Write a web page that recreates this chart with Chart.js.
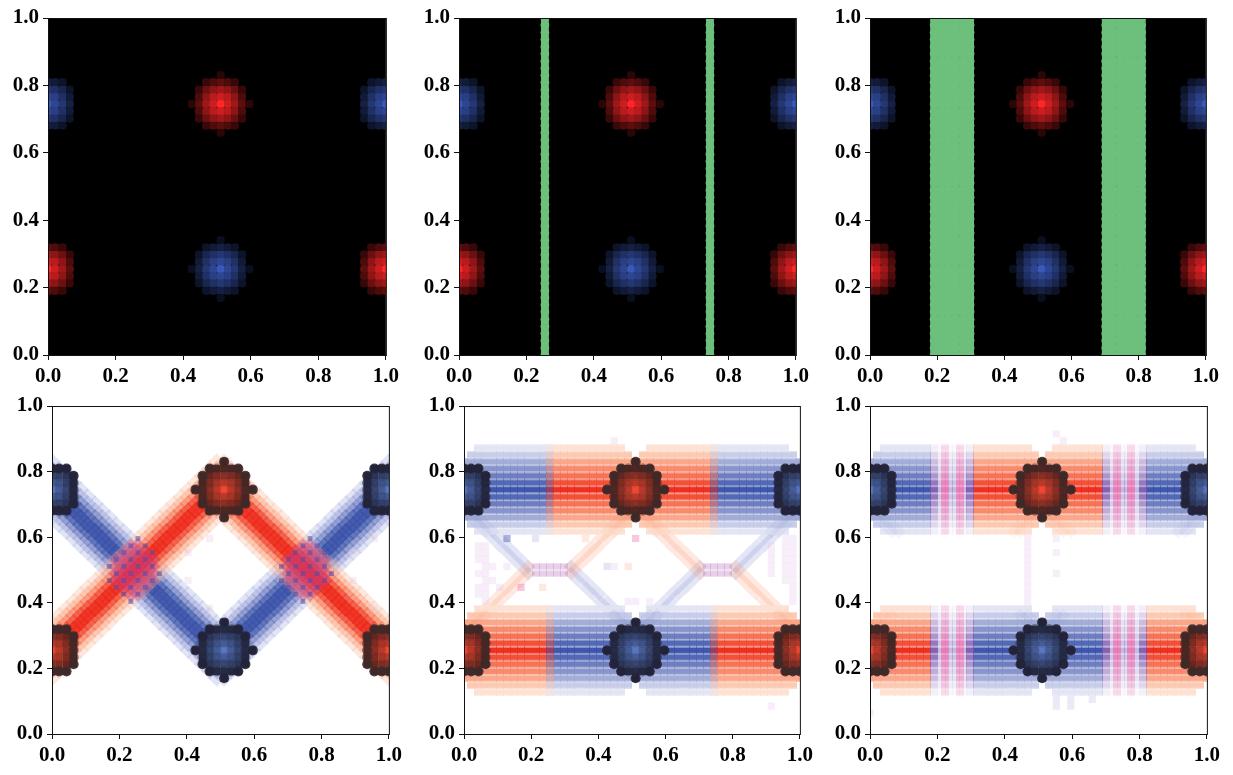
<!DOCTYPE html>
<html>
<head>
<meta charset="utf-8">
<title>Six panel lattice</title>
<script src="https://cdn.jsdelivr.net/npm/chart.js@4"></script>
<style>
body { margin: 0; background: #fff; }
canvas { position: absolute; }
</style>
</head>
<body>
<script>
// lattice positions (48 sites per axis)
const gridPos = [0, .021, .043, .064, .085, .106, .128, .149, .170, .191, .213, .234, .255, .277, .298, .319,
    .340, .362, .383, .404, .426, .447, .468, .489, .511, .532, .553, .574, .596, .617, .638, .660,
    .681, .702, .723, .745, .766, .787, .809, .830, .851, .872, .894, .915, .936, .957, .979, 1];
const tickValues = [0, .2, .4, .6, .8, 1];
const tickLabels = ['0.0', '0.2', '0.4', '0.6', '0.8', '1.0'];

// blob centres as [column, row]
const redCentres = [[24, 35], [0, 12], [47, 12]];
const blueCentres = [[24, 12], [0, 35], [47, 35]];

// blob brightness, 9x9 around the centre
const blobRows = [
    [0, 0, 0, 0, .17, 0, 0, 0, 0],
    [0, 0, .22, .3, .36, .3, .22, 0, 0],
    [0, .22, .42, .55, .62, .55, .42, .22, 0],
    [0, .3, .55, .72, .8, .72, .55, .3, 0],
    [.17, .36, .62, .8, 1, .8, .62, .36, .17],
    [0, .3, .55, .72, .8, .72, .55, .3, 0],
    [0, .22, .42, .55, .62, .55, .42, .22, 0],
    [0, 0, .22, .3, .36, .3, .22, 0, 0],
    [0, 0, 0, 0, .17, 0, 0, 0, 0]
];
const edgeBlobRows = [
    [0, 0, 0, 0, 0, 0, 0, 0, 0],
    [0, 0, .22, .3, .36, .3, .22, 0, 0],
    [0, .22, .42, .55, .62, .55, .42, .22, 0],
    [0, .3, .55, .72, .8, .72, .55, .3, 0],
    [0, .36, .62, .8, 1, .8, .62, .36, 0],
    [0, .3, .55, .72, .8, .72, .55, .3, 0],
    [0, .22, .42, .55, .62, .55, .42, .22, 0],
    [0, 0, .22, .3, .36, .3, .22, 0, 0],
    [0, 0, 0, 0, 0, 0, 0, 0, 0]
];
// dark dots over the blobs in the lower row
const blobShade = [
    [0, 0, 0, 0, .9, 0, 0, 0, 0],
    [0, 0, .9, .55, .55, .55, .9, 0, 0],
    [0, .9, .22, .22, .22, .22, .22, .9, 0],
    [0, .55, .22, .14, .1, .14, .22, .55, 0],
    [.9, .55, .22, .1, 0, .1, .22, .55, .9],
    [0, .55, .22, .14, .1, .14, .22, .55, 0],
    [0, .9, .22, .22, .22, .22, .22, .9, 0],
    [0, 0, .9, .55, .55, .55, .9, 0, 0],
    [0, 0, 0, 0, .9, 0, 0, 0, 0]
];
const edgeBlobShade = [
    [0, 0, 0, 0, 0, 0, 0, 0, 0],
    [0, 0, .9, .9, .9, .9, .9, 0, 0],
    [0, .9, .22, .22, .22, .22, .22, .9, 0],
    [0, .7, .22, .14, .1, .14, .22, .7, 0],
    [0, .7, .22, .1, 0, .1, .22, .7, 0],
    [0, .7, .22, .14, .1, .14, .22, .7, 0],
    [0, .9, .22, .22, .22, .22, .22, .9, 0],
    [0, 0, .9, .9, .9, .9, .9, 0, 0],
    [0, 0, 0, 0, 0, 0, 0, 0, 0]
];

// green columns in the upper row
const greenColsNarrow = [12, 35];
const greenColsWide = [9, 10, 11, 12, 13, 14, 33, 34, 35, 36, 37, 38];

// wide diagonal bands, lower left panel
const redPathRows = [12, 13, 14, 15, 16, 17, 18, 19, 20, 21, 22, 23, 24, 25, 26, 27, 28, 29, 30, 31, 32, 33, 34, 35,
    35, 34, 33, 32, 31, 30, 29, 28, 27, 26, 25, 24, 23, 22, 21, 20, 19, 18, 17, 16, 15, 14, 13, 12];
const bluePathRows = [35, 34, 33, 32, 31, 30, 29, 28, 27, 26, 25, 24, 23, 22, 21, 20, 19, 18, 17, 16, 15, 14, 13, 12,
    12, 13, 14, 15, 16, 17, 18, 19, 20, 21, 22, 23, 24, 25, 26, 27, 28, 29, 30, 31, 32, 33, 34, 35];
// painted from the outside of the band inwards
const diagOffsets = [-4, 4, -3, 3, -2, 2, -1, 1, 0];
const diagRedShades = ['rgba(250,190,160,.35)', 'rgba(250,190,160,.35)', 'rgba(250,165,130,.45)', 'rgba(250,165,130,.45)',
    'rgba(248,115,80,.55)', 'rgba(248,115,80,.55)', 'rgba(240,70,50,.7)', 'rgba(240,70,50,.7)', 'rgba(238,40,25,.8)'];
const diagBlueShades = ['rgba(170,178,225,.35)', 'rgba(170,178,225,.35)', 'rgba(150,160,215,.45)', 'rgba(150,160,215,.45)',
    'rgba(105,120,190,.55)', 'rgba(105,120,190,.55)', 'rgba(70,95,175,.7)', 'rgba(70,95,175,.7)', 'rgba(58,82,168,.82)'];
// mixed patch where the diagonals cross, [row, first col, last col]
const crossRows = [[20, 11, 12], [21, 10, 13], [22, 9, 14], [23, 9, 14], [24, 9, 14], [25, 9, 14], [26, 10, 13], [27, 11, 12]];
const crossFlecks = [[11, 19], [10, 20], [12, 20], [9, 21], [11, 21], [13, 21], [8, 22], [10, 22], [12, 22], [14, 22], [9, 23], [11, 23], [13, 23], [15, 23],
    [8, 24], [10, 24], [12, 24], [14, 24], [9, 25], [11, 25], [13, 25], [10, 26], [12, 26], [14, 26], [11, 27], [13, 27], [12, 28]];
const crossShift = [0, 24];
const diagStray = [[22, 28], [19, 26], [19, 22], [22, 18], [45, 28], [42, 26], [42, 22], [45, 18]];

// horizontal bands of the two lower right panels
const bandCentreRows = [35, 12];
const bandRowOffsets = [-6, -5, -4, -3, -2, -1, 0, 1, 2, 3, 4, 5, 6];
const bandRedShades = [[253, 225, 210], [252, 200, 175], [250, 165, 135], [248, 135, 105], [246, 110, 80], [242, 75, 50], [238, 40, 25],
    [242, 75, 50], [246, 110, 80], [248, 135, 105], [250, 165, 135], [252, 200, 175], [253, 225, 210]];
const bandBlueShades = [[226, 228, 244], [198, 203, 232], [160, 170, 214], [132, 146, 202], [105, 122, 190], [78, 100, 180], [56, 82, 170],
    [78, 100, 180], [105, 122, 190], [132, 146, 202], [160, 170, 214], [198, 203, 232], [226, 228, 244]];
const bandRowAlpha = [.1, .25, .42, .52, .68, .85, 1, .85, .68, .52, .42, .25, .1];
const bandRowFirst = [2, 1, 0, 0, 0, 0, 0, 0, 0, 0, 0, 1, 2];
const bandRowLast = [45, 46, 47, 47, 47, 47, 47, 47, 47, 47, 47, 46, 45];
const bandRowNotch = [[23, 25], [24, 24], null, null, null, null, null, null, null, null, null, [24, 24], [23, 25]];
const middleSegsTop = [[0, 12, 'blue'], [13, 34, 'red'], [35, 47, 'blue']];
const middleSegsLow = [[0, 11, 'red'], [12, 35, 'blue'], [36, 47, 'red']];
const middleBoundaryCols = [12, 35];
const rightSegsTop = [[0, 8, 'blue'], [15, 32, 'red'], [39, 47, 'blue']];
const rightSegsLow = [[0, 8, 'red'], [15, 32, 'blue'], [39, 47, 'red']];
const mixEdgeCols = [9, 14, 33, 38];
const mixFillCols = [10, 11, 12, 13, 34, 35, 36, 37];
const pinkStripeX = [.223, .267, .734, .775];

// thin diagonals of the middle panel
const thinCols = [0, 1, 2, 3, 4, 5, 6, 7, 8, 9, 15, 16, 17, 18, 19, 20, 21, 22, 23, 24,
    24, 25, 26, 27, 28, 29, 30, 31, 32, 33, 38, 39, 40, 41, 42, 43, 44, 45, 46, 47];
const thinBlueRows = [32, 31, 30, 29, 28, 27, 26, 25, 24, 23, 23, 22, 21, 20, 19, 18, 17, 16, 15, 14,
    14, 15, 16, 17, 18, 19, 20, 21, 22, 23, 23, 24, 25, 26, 27, 28, 29, 30, 31, 32];
const thinRedRows = [14, 15, 16, 17, 18, 19, 20, 21, 22, 23, 23, 24, 25, 26, 27, 28, 29, 30, 31, 32,
    32, 31, 30, 29, 28, 27, 26, 25, 24, 23, 23, 22, 21, 20, 19, 18, 17, 16, 15, 14];
const linkCols = [10, 11, 12, 13, 14, 34, 35, 36, 37];
const linkRows = [23, 24];

// faint stray cells, [col, row]
const middleStrayPale = [[2, 27], [2, 26], [2, 25], [2, 23], [2, 21], [2, 20], [3, 27], [3, 26], [3, 25], [3, 24], [3, 23], [3, 22], [3, 21], [3, 20], [3, 19],
    [4, 24], [4, 22], [5, 21], [6, 24], [43, 27], [43, 26], [43, 25], [43, 24], [43, 23], [45, 28], [45, 27], [45, 26], [45, 25], [45, 24], [45, 23], [45, 22],
    [46, 28], [46, 27], [46, 26], [46, 25], [46, 24], [46, 23], [46, 22], [46, 21], [46, 20], [46, 19], [23, 19], [24, 19], [21, 24], [43, 4], [21, 42], [26, 19]];
const middleStrayPink = [[8, 21], [24, 28]];
const middleStrayBlue = [[6, 28]];
const middleStrayPaleBlue = [[10, 28], [20, 24]];
const middleStraySalmon = [[11, 21], [17, 28], [23, 24]];
const rightStrayPale = [[22, 28], [22, 27], [22, 26], [22, 25], [22, 24], [22, 23], [22, 22], [22, 21], [22, 20], [22, 19],
    [26, 28], [26, 26], [26, 23], [26, 43], [27, 42], [0, 3]];
const rightStrayPaleBlue = [[26, 5], [26, 4], [28, 5], [28, 4], [31, 5]];

// base colours
const blobRed = [255, 38, 40];
const blobBlue = [58, 88, 182];
const blobRedLow = [245, 72, 50];
const blobBlueLow = [88, 120, 195];
const shadeOnRed = [62, 42, 42];
const shadeOnBlue = [36, 36, 58];
const greenFill = '#6dc07c';

const panelBoxes = [
    { l: 48, t: 18, w: 339, h: 337 }, { l: 459, t: 18, w: 338, h: 337 }, { l: 870, t: 18, w: 337, h: 337 },
    { l: 52, t: 406, w: 338, h: 328 }, { l: 464, t: 406, w: 337, h: 328 }, { l: 870, t: 406, w: 338, h: 328 }
];

function rgba(c, a) {
    return 'rgba(' + c[0] + ',' + c[1] + ',' + c[2] + ',' + a + ')';
}

function cell(col, row) {
    return { x: gridPos[col], y: gridPos[row] };
}

// wide, short tile so rows keep a small white gap between them
const spriteCache = {};
function tile(color) {
    if (!spriteCache[color]) {
        const c = document.createElement('canvas');
        c.width = 8;
        c.height = 7;
        const g = c.getContext('2d');
        g.fillStyle = color;
        g.fillRect(0, .4, 8, 6.2);
        spriteCache[color] = c;
    }
    return spriteCache[color];
}

function marks(style, data, color, radius) {
    return { data: data, backgroundColor: color, pointStyle: style, pointRadius: radius, pointBorderWidth: 0, showLine: false, clip: 0 };
}
function squares(data, color, radius) {
    return marks('rect', data, color, radius || 5.1);
}
function dots(data, color, radius) {
    return marks('circle', data, color, radius);
}
function diamonds(data, color, radius) {
    return marks('rectRot', data, color, radius);
}
function tiles(data, color) {
    return marks(tile(color), data, color, 5);
}

function blobSets(lowerRow) {
    const sets = [];
    const groups = lowerRow ? [[redCentres, blobRedLow, shadeOnRed], [blueCentres, blobBlueLow, shadeOnBlue]]
        : [[redCentres, blobRed, shadeOnRed], [blueCentres, blobBlue, shadeOnBlue]];
    groups.forEach(function (group) {
        group[0].forEach(function (centre) {
            const isEdge = centre[0] === 0 || centre[0] === 47;
            const levels = isEdge ? edgeBlobRows : blobRows;
            const shade = isEdge ? edgeBlobShade : blobShade;
            const pts = [], cols = [], shadePts = [], shadeCols = [];
            levels.forEach(function (row, r) {
                row.forEach(function (v, c) {
                    const col = centre[0] + c - 4, rw = centre[1] + 4 - r;
                    if (!v || col < 0 || col > 47) return;
                    const b = group[1];
                    const k = lowerRow ? v * .85 + .15 : v;
                    pts.push(cell(col, rw));
                    cols.push('rgb(' + Math.round(b[0] * k) + ',' + Math.round(b[1] * k) + ',' + Math.round(b[2] * k) + ')');
                    if (shade[r][c]) {
                        shadePts.push(cell(col, rw));
                        shadeCols.push(rgba(group[2], shade[r][c]));
                    }
                });
            });
            if (!lowerRow) sets.push(dots(pts, cols, 4.3));
            sets.push(squares(pts, cols));
            if (lowerRow) sets.push(dots(shadePts, shadeCols, 5.1));
        });
    });
    return sets;
}

function greenSets(columns) {
    const pts = [];
    columns.forEach(function (col) {
        gridPos.forEach(function (y, row) {
            pts.push(cell(col, row));
        });
    });
    return [dots(pts, greenFill, 4.4), squares(pts, greenFill, 5.5)];
}

function diagSets() {
    const sets = [];
    [[bluePathRows, diagBlueShades], [redPathRows, diagRedShades]].forEach(function (pair) {
        diagOffsets.forEach(function (k, i) {
            const pts = [];
            pair[0].forEach(function (row, col) {
                const r = row + k;
                if (r >= 0 && r <= 47) pts.push(cell(col, r));
            });
            sets.push(diamonds(pts, pair[1][i], 8.5));
        });
    });
    crossShift.forEach(function (shift) {
        const patch = [];
        crossRows.forEach(function (cr) {
            for (let c = cr[1]; c <= cr[2]; c++) patch.push(cell(c + shift, cr[0]));
        });
        sets.push(diamonds(patch, 'rgba(200,62,130,.36)', 7.2));
        sets.push(squares(crossFlecks.map(p => cell(p[0] + shift, p[1])), 'rgba(90,72,170,.55)', 3.4));
    });
    sets.push(squares(diagStray.map(p => cell(p[0], p[1])), 'rgba(235,205,225,.35)'));
    return sets;
}

function bandPoints(centre, idx, first, last) {
    const pts = [];
    const notch = bandRowNotch[idx];
    for (let c = Math.max(first, bandRowFirst[idx]); c <= Math.min(last, bandRowLast[idx]); c++) {
        if (notch && c >= notch[0] && c <= notch[1]) continue;
        pts.push(cell(c, centre + bandRowOffsets[idx]));
    }
    return pts;
}

function bandSets(segsByBand) {
    const sets = [];
    bandCentreRows.forEach(function (centre, b) {
        segsByBand[b].forEach(function (seg) {
            bandRowOffsets.forEach(function (k, i) {
                const shades = seg[2] === 'red' ? bandRedShades : bandBlueShades;
                sets.push(tiles(bandPoints(centre, i, seg[0], seg[1]), rgba(shades[i], .97)));
            });
        });
    });
    return sets;
}

// half red over blue where the two colours meet
function boundarySets() {
    const sets = [];
    bandCentreRows.forEach(function (centre) {
        bandRowOffsets.forEach(function (k, i) {
            sets.push(tiles(middleBoundaryCols.map(c => cell(c, centre + k)), rgba(bandRedShades[i], .5)));
        });
    });
    return sets;
}

function mixSets() {
    const sets = [];
    bandCentreRows.forEach(function (centre) {
        bandRowOffsets.forEach(function (k, i) {
            const row = centre + k;
            const a = bandRowAlpha[i];
            sets.push(tiles(mixFillCols.map(c => cell(c, row)), rgba([130, 120, 195], (a * .5).toFixed(2))));
            sets.push(tiles(mixEdgeCols.map(c => cell(c, row)), rgba([120, 80, 172], (a * .9).toFixed(2))));
            sets.push(tiles(pinkStripeX.map(x => ({ x: x, y: gridPos[row] })), rgba([245, 110, 175], (a * .7 + .15).toFixed(2))));
        });
    });
    return sets;
}

function thinSets(alpha, onlyInBands) {
    const sets = [];
    [[thinBlueRows, [120, 130, 205]], [thinRedRows, [248, 140, 100]]].forEach(function (pair) {
        [0, 1].forEach(function (k) {
            const pts = [];
            thinCols.forEach(function (col, i) {
                const r = pair[0][i] + k;
                if (onlyInBands && r > 17 && r < 29) return;
                pts.push(cell(col, r));
            });
            sets.push(diamonds(pts, rgba(pair[1], alpha), 7));
        });
    });
    return sets;
}

function linkSets() {
    const pts = [];
    linkRows.forEach(function (row) {
        linkCols.forEach(function (col) {
            pts.push(cell(col, row));
        });
    });
    return [tiles(pts, 'rgba(190,125,195,.36)')];
}

function strays(list, color) {
    return squares(list.map(p => cell(p[0], p[1])), color);
}

const panelFrame = {
    id: 'panelFrame',
    beforeDatasetsDraw(chart, args, opts) {
        const a = chart.chartArea;
        if (opts.fill) {
            chart.ctx.fillStyle = opts.fill;
            chart.ctx.fillRect(a.left, a.top, a.width, a.height);
        }
    },
    afterDraw(chart) {
        const a = chart.chartArea, ctx = chart.ctx;
        ctx.save();
        ctx.strokeStyle = '#111';
        ctx.lineWidth = 1;
        ctx.strokeRect(a.left + .5, a.top + .5, a.width, a.height);
        ctx.restore();
    }
};

function makePanel(box, fill, datasets) {
    const gutterL = 46, gutterT = 20, gutterR = 16, gutterB = 36;
    const canvas = document.createElement('canvas');
    canvas.width = box.w + gutterL + gutterR;
    canvas.height = box.h + gutterT + gutterB;
    canvas.style.left = (box.l - gutterL) + 'px';
    canvas.style.top = (box.t - gutterT) + 'px';
    document.body.appendChild(canvas);
    const axis = function (fit) {
        return {
            type: 'linear', min: 0, max: 1,
            afterBuildTicks: s => { s.ticks = tickValues.map(v => ({ value: v })); },
            afterFit: fit,
            grid: { drawOnChartArea: false, drawTicks: true, tickLength: 5, color: '#111', lineWidth: 1 },
            border: { display: false },
            ticks: {
                color: '#000', padding: 4, maxRotation: 0, autoSkip: false,
                font: { family: '"Liberation Serif"', weight: 'bold', size: 21 },
                callback: (v, i) => tickLabels[i]
            }
        };
    };
    // Chart.js paints the first dataset last, so hand them over back to front
    new Chart(canvas, {
        type: 'scatter',
        data: { datasets: datasets.slice().reverse() },
        options: {
            responsive: false,
            animation: false,
            events: [],
            layout: { padding: { left: 0, top: gutterT, right: gutterR, bottom: 0 } },
            plugins: { legend: { display: false }, tooltip: { enabled: false }, panelFrame: { fill: fill } },
            scales: {
                x: axis(s => { s.height = gutterB; }),
                y: axis(s => { s.width = gutterL; })
            }
        },
        plugins: [panelFrame]
    });
}

makePanel(panelBoxes[0], '#000', blobSets(false));
makePanel(panelBoxes[1], '#000', greenSets(greenColsNarrow).concat(blobSets(false)));
makePanel(panelBoxes[2], '#000', greenSets(greenColsWide).concat(blobSets(false)));

makePanel(panelBoxes[3], null, diagSets().concat(blobSets(true)));
makePanel(panelBoxes[4], null, [].concat(
    thinSets(.2, false),
    linkSets(),
    bandSets([middleSegsTop, middleSegsLow]),
    boundarySets(),
    thinSets(.07, true),
    [strays(middleStrayPale, 'rgba(205,150,215,.16)'), strays(middleStrayPink, 'rgba(235,110,170,.38)'),
        strays(middleStrayBlue, 'rgba(70,85,175,.45)'), strays(middleStrayPaleBlue, 'rgba(110,115,195,.18)'),
        strays(middleStraySalmon, 'rgba(245,140,110,.2)')],
    blobSets(true)
));
makePanel(panelBoxes[5], null, [].concat(
    bandSets([rightSegsTop, rightSegsLow]),
    mixSets(),
    thinSets(.07, true),
    [strays(rightStrayPale, 'rgba(205,150,215,.16)'), strays(rightStrayPaleBlue, 'rgba(110,115,195,.14)')],
    blobSets(true)
));
</script>
</body>
</html>
